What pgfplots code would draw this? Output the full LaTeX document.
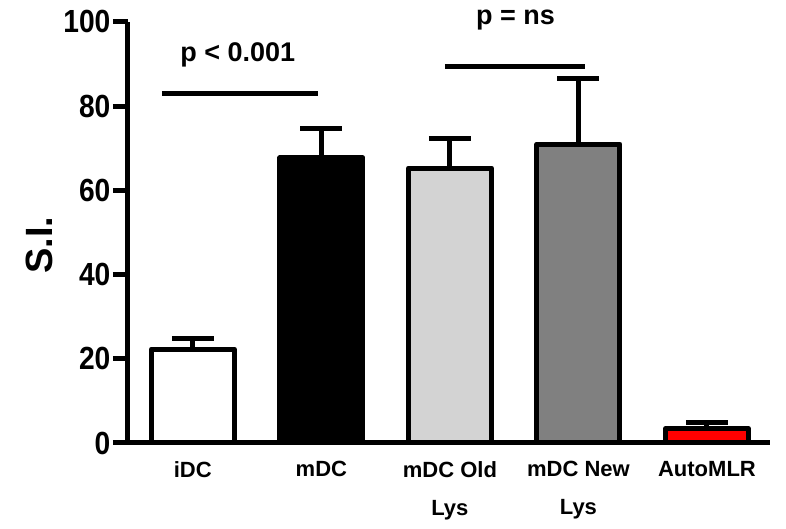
\documentclass[border=0pt]{standalone}
\usepackage{fontspec}
\setmainfont{Liberation Sans}
\newfontfamily\tickfont{Liberation Sans}[FakeStretch=0.88]
\usepackage{pgfplots}
\pgfplotsset{compat=1.18}
\definecolor{lightbar}{HTML}{D3D3D3}
\definecolor{darkbar}{HTML}{808080}

\begin{document}
\begin{tikzpicture}
\begin{axis}[
  scale only axis, width=321pt, height=210.5pt,
  ybar, bar width=41.5pt, bar shift=0pt,
  xmin=-0.506, xmax=4.49, ymin=0, ymax=100,
  axis lines=left,
  axis line style={-, line width=2.5pt},
  xtick={0,...,4},
  xticklabels={iDC, mDC, {mDC Old\\Lys}, {mDC New\\Lys}, AutoMLR},
  x tick style={draw=none},
  ytick={0,20,...,100}, tick align=outside, major tick length=7.5pt,
  y tick style={line width=2.5pt, black},
  xticklabel style={font=\bfseries\fontsize{11}{19}\selectfont, align=center, anchor=north, yshift=2pt},
  yticklabel style={font=\tickfont\bfseries\fontsize{16}{16}\selectfont, inner sep=1pt},
  /pgf/number format/assume math mode=true,
  ylabel={S.I.},
  ylabel style={font=\bfseries\fontsize{19}{19}\selectfont, at={(rel axis cs:-0.137,0.47)}, anchor=center},
  clip=false,
  every axis plot/.append style={draw=black, line width=2.5pt, line join=round,
    error bars/y dir=plus, error bars/y explicit,
    error bars/error bar style={line width=2.5pt, black},
    error bars/error mark options={rotate=90, line width=2.5pt, mark size=10.5pt, black}},
]
\addplot[fill=white] coordinates {(0,22.3) +- (0,2.6)};
\addplot[fill=black] coordinates {(1,67.7) +- (0,6.9)};
\addplot[fill=lightbar] coordinates {(2,65.3) +- (0,6.9)};
\addplot[fill=darkbar] coordinates {(3,71) +- (0,15.5)};
\addplot[fill=red] coordinates {(4,3.4) +- (0,1.4)};

% significance annotations
\draw[line width=2.5pt] (axis cs:-0.241,82.9) -- (axis cs:0.973,82.9);
\node[font=\bfseries\fontsize{13.5}{14}\selectfont, anchor=base] at (axis cs:0.35,90.5) {p < 0.001};
\draw[line width=2.5pt] (axis cs:1.96,89.3) -- (axis cs:3.05,89.3);
\node[font=\bfseries\fontsize{13.5}{14}\selectfont, anchor=base] at (axis cs:2.51,99.3) {p = ns};

\coordinate (bl) at (rel axis cs:-0.199,-0.204);
\coordinate (tr) at (rel axis cs:1.025,1.052);
\end{axis}
\pgfresetboundingbox
\path[use as bounding box] (bl) rectangle (tr);
\end{tikzpicture}
\end{document}
